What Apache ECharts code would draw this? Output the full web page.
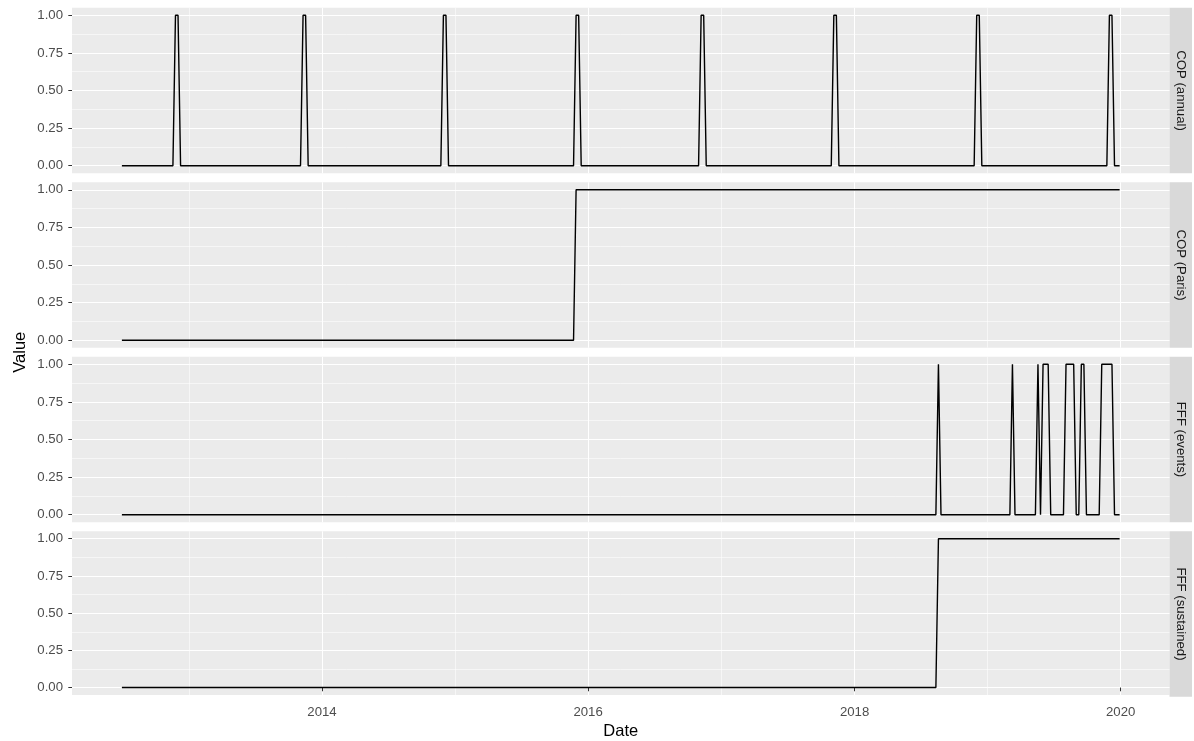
<!DOCTYPE html>
<html>
<head>
<meta charset="utf-8">
<script src="https://cdn.jsdelivr.net/npm/echarts@6/dist/echarts.min.js"></script>
<style>
html,body{margin:0;padding:0;background:#fff;}
#chart{width:1194px;height:741px;}
</style>
</head>
<body>
<div id="chart"></div>
<script>
// ---- data (weekly series, vertices where value changes) ----
const panelLabels = ['COP (annual)', 'COP (Paris)', 'FFF (events)', 'FFF (sustained)'];

const copAnnual = [
  ['2012-07-01',0],['2012-11-18',0],['2012-11-25',1],['2012-12-02',1],['2012-12-09',0],
  ['2013-11-03',0],['2013-11-10',1],['2013-11-17',1],['2013-11-24',0],
  ['2014-11-23',0],['2014-11-30',1],['2014-12-07',1],['2014-12-14',0],
  ['2015-11-22',0],['2015-11-29',1],['2015-12-06',1],['2015-12-13',0],
  ['2016-10-30',0],['2016-11-06',1],['2016-11-13',1],['2016-11-20',0],
  ['2017-10-29',0],['2017-11-05',1],['2017-11-12',1],['2017-11-19',0],
  ['2018-11-25',0],['2018-12-02',1],['2018-12-09',1],['2018-12-16',0],
  ['2019-11-24',0],['2019-12-01',1],['2019-12-08',1],['2019-12-15',0],['2019-12-29',0]
];
const copParis = [['2012-07-01',0],['2015-11-22',0],['2015-11-29',1],['2019-12-29',1]];
const fffEvents = [
  ['2012-07-01',0],['2018-08-12',0],['2018-08-19',1],['2018-08-26',0],
  ['2019-03-03',0],['2019-03-10',1],['2019-03-17',0],
  ['2019-05-12',0],['2019-05-19',1],['2019-05-26',0],
  ['2019-06-02',1],['2019-06-09',1],['2019-06-16',1],['2019-06-23',0],
  ['2019-07-28',0],['2019-08-04',1],['2019-08-11',1],['2019-08-18',1],['2019-08-25',1],['2019-09-01',0],
  ['2019-09-08',0],['2019-09-15',1],['2019-09-22',1],['2019-09-29',0],
  ['2019-11-03',0],['2019-11-10',1],['2019-11-17',1],['2019-11-24',1],['2019-12-01',1],['2019-12-08',1],['2019-12-15',0],
  ['2019-12-29',0]
];
const fffSustained = [['2012-07-01',0],['2018-08-12',0],['2018-08-19',1],['2019-12-29',1]];

const xMajorYears = [2014, 2016, 2018, 2020];
const xMinorYears = [2013, 2015, 2017, 2019];
const yMajorTicks = [0, 0.25, 0.5, 0.75, 1];
const yMinorTicks = [0.125, 0.375, 0.625, 0.875];
const xDataStart = '2012-07-01';
const xDataEnd = '2019-12-29';

// ---- build ----
const toTs = s => { const p = s.split('-').map(Number); return Date.UTC(p[0], p[1]-1, p[2]); };
const yearTs = y => Date.UTC(y, 0, 1);
const seriesData = [copAnnual, copParis, fffEvents, fffSustained];

const t0 = toTs(xDataStart), t1 = toTs(xDataEnd);
const span = t1 - t0;
const xMin = t0 - 0.05 * span, xMax = t1 + 0.05 * span;

const FONT = "'Liberation Sans', Arial, Helvetica, sans-serif";
const TICK_FS = 13.2;
const left = 72, rightEdge = 1169.5;
const tops = [7.8, 182.3, 356.8, 531.3];
const ph = 165.4;

const grids = [], xAxes = [], yAxes = [], series = [], graphics = [];
tops.forEach((top, i) => {
  const last = i === tops.length - 1;
  grids.push({ left: left, top: top, width: rightEdge - left, height: ph, show: true,
    backgroundColor: '#EBEBEB', borderWidth: 0, containLabel: false });
  xAxes.push({
    type: 'value', gridIndex: i, min: xMin, max: xMax,
    axisLine: { show: false },
    axisTick: { show: last, length: 3.7, lineStyle: { color: '#333333', width: 1.05 }, customValues: xMajorYears.map(yearTs) },
    axisLabel: { show: last, customValues: xMajorYears.map(yearTs), margin: 10.5,
      color: '#4D4D4D', fontSize: TICK_FS, fontFamily: FONT,
      formatter: v => String(new Date(v).getUTCFullYear()) },
    splitLine: { show: true, lineStyle: { color: '#FFFFFF', width: 1.1 } },
    name: last ? 'Date' : '', nameLocation: 'middle', nameGap: 28,
    nameTextStyle: { color: '#000000', fontSize: 16.5, fontFamily: FONT }
  });
  xAxes.push({
    type: 'value', gridIndex: i, min: xMin, max: xMax, position: 'top',
    axisLine: { show: false },
    axisTick: { show: false, customValues: xMinorYears.map(yearTs) },
    axisLabel: { show: false, customValues: xMinorYears.map(yearTs) },
    splitLine: { show: true, lineStyle: { color: '#FFFFFF', width: 0.55 } }
  });
  yAxes.push({
    type: 'value', gridIndex: i, min: -0.05, max: 1.05,
    axisLine: { show: false },
    axisTick: { show: true, length: 3.7, lineStyle: { color: '#333333', width: 1.05 }, customValues: yMajorTicks },
    axisLabel: { show: true, customValues: yMajorTicks, margin: 9,
      color: '#4D4D4D', fontSize: TICK_FS, fontFamily: FONT,
      formatter: v => Number(v).toFixed(2) },
    splitLine: { show: true, lineStyle: { color: '#FFFFFF', width: 1.1 } }
  });
  yAxes.push({
    type: 'value', gridIndex: i, min: -0.05, max: 1.05, position: 'right',
    axisLine: { show: false },
    axisTick: { show: false, customValues: yMinorTicks },
    axisLabel: { show: false, customValues: yMinorTicks },
    splitLine: { show: true, lineStyle: { color: '#FFFFFF', width: 0.55 } }
  });
  series.push({
    type: 'line', xAxisIndex: 2*i, yAxisIndex: 2*i,
    data: seriesData[i].map(d => [toTs(d[0]), d[1]]),
    showSymbol: false, symbol: 'none',
    lineStyle: { color: '#000000', width: 1.4 },
    z: 5
  });
  graphics.push({ type: 'rect', shape: { x: rightEdge, y: top, width: 22.5, height: ph },
    style: { fill: '#D9D9D9' }, silent: true });
  graphics.push({ type: 'text', x: rightEdge + 11.5, y: top + ph/2, rotation: -Math.PI/2,
    style: { text: panelLabels[i], fill: '#1A1A1A', font: TICK_FS + 'px ' + FONT,
      align: 'center', verticalAlign: 'middle' }, silent: true });
});
graphics.push({ type: 'text', x: 20, y: (tops[0] + tops[3] + ph)/2, rotation: Math.PI/2,
  style: { text: 'Value', fill: '#000000', font: '16.5px ' + FONT,
    align: 'center', verticalAlign: 'middle' }, silent: true });

const chart = echarts.init(document.getElementById('chart'), null, { renderer: 'canvas' });
chart.setOption({
  animation: false,
  backgroundColor: '#FFFFFF',
  grid: grids, xAxis: xAxes, yAxis: yAxes, series: series,
  graphic: graphics
});
</script>
</body>
</html>
